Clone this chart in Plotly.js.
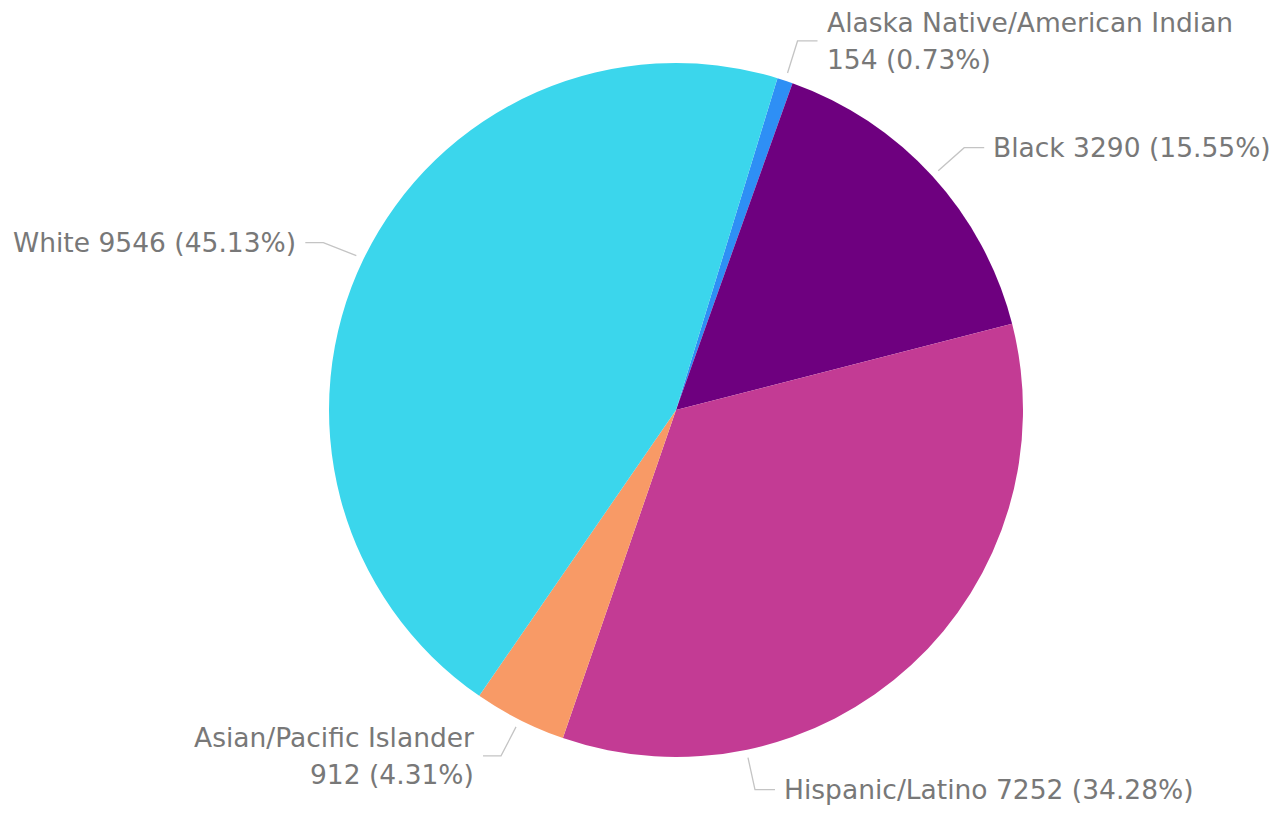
<!DOCTYPE html>
<html>
<head>
<meta charset="utf-8">
<script src="https://cdn.plot.ly/plotly-3.0.1.min.js"></script>
<style>html,body{margin:0;padding:0;background:#fff;}#chart{width:1283px;height:815px;}</style>
</head>
<body>
<div id="chart"></div>
<script>
const labels = ['Alaska Native/American Indian', 'Black', 'Hispanic/Latino', 'Asian/Pacific Islander', 'White'];
const values = [154, 3290, 7252, 912, 9546];
const colors = ['#2e8ff5', '#6e007f', '#c33b94', '#f89a66', '#3bd6ec'];
const twoLine = [true, false, false, true, false];

// label/connector layout (pixels)
const W = 1283, H = 815;
const cx = 676, cy = 410, R = 347;
const rotation = 17;
const lineGap = 37;
const labelCfg = [
  {angle: null, bend: [10, -32], len: 20, side: 'right'},
  {angle: null, bend: [26, -23], len: 20, side: 'right'},
  {angle: 168.3, bend: [7, 32], len: 20, side: 'right'},
  {angle: null, bend: [-15, 29], len: 18, side: 'left'},
  {angle: null, bend: [-33, -13], len: 18, side: 'left'}
];

const total = values.reduce((a, b) => a + b, 0);
const pct = values.map(v => (100 * v / total).toFixed(2) + '%');

const fx = px => px / W;
const fy = py => 1 - py / H;
const font = {family: 'DejaVu Sans', size: 26.5, color: '#787878'};

const shapes = [];
const annotations = [];
let acc = 0;
values.forEach((v, i) => {
  const span = 360 * v / total;
  const mid = rotation + acc + span / 2;
  acc += span;
  const cfg = labelCfg[i];
  const ang = (cfg.angle !== null ? cfg.angle : mid) * Math.PI / 180;
  const sx = cx + (R + 8) * Math.sin(ang);
  const sy = cy - (R + 8) * Math.cos(ang);
  const bx = sx + cfg.bend[0];
  const by = sy + cfg.bend[1];
  const dir = cfg.side === 'right' ? 1 : -1;
  const ex = bx + dir * cfg.len;
  shapes.push({
    type: 'path', xref: 'paper', yref: 'paper',
    path: `M ${fx(sx)} ${fy(sy)} L ${fx(bx)} ${fy(by)} L ${fx(ex)} ${fy(by)}`,
    line: {color: '#c4c4c4', width: 1.3}
  });
  const lines = twoLine[i] ? [labels[i], `${values[i]} (${pct[i]})`] : [`${labels[i]} ${values[i]} (${pct[i]})`];
  lines.forEach((t, k) => {
    const off = (k - (lines.length - 1) / 2) * lineGap;
    annotations.push({
      xref: 'paper', yref: 'paper',
      x: fx(ex + dir * 7), y: fy(by + off),
      xanchor: cfg.side === 'right' ? 'left' : 'right', yanchor: 'middle',
      text: t, showarrow: false, font: font
    });
  });
});

const trace = {
  type: 'pie',
  labels: labels, values: values,
  marker: {colors: colors, line: {width: 0}},
  sort: false, direction: 'clockwise', rotation: rotation,
  textinfo: 'none', hoverinfo: 'label+value+percent',
  domain: {x: [fx(cx - R), fx(cx + R)], y: [fy(cy + R), fy(cy - R)]}
};

const layout = {
  width: W, height: H,
  margin: {l: 0, r: 0, t: 0, b: 0},
  showlegend: false,
  paper_bgcolor: '#ffffff',
  shapes: shapes,
  annotations: annotations
};

Plotly.newPlot('chart', [trace], layout, {displayModeBar: false, staticPlot: true});
</script>
</body>
</html>
